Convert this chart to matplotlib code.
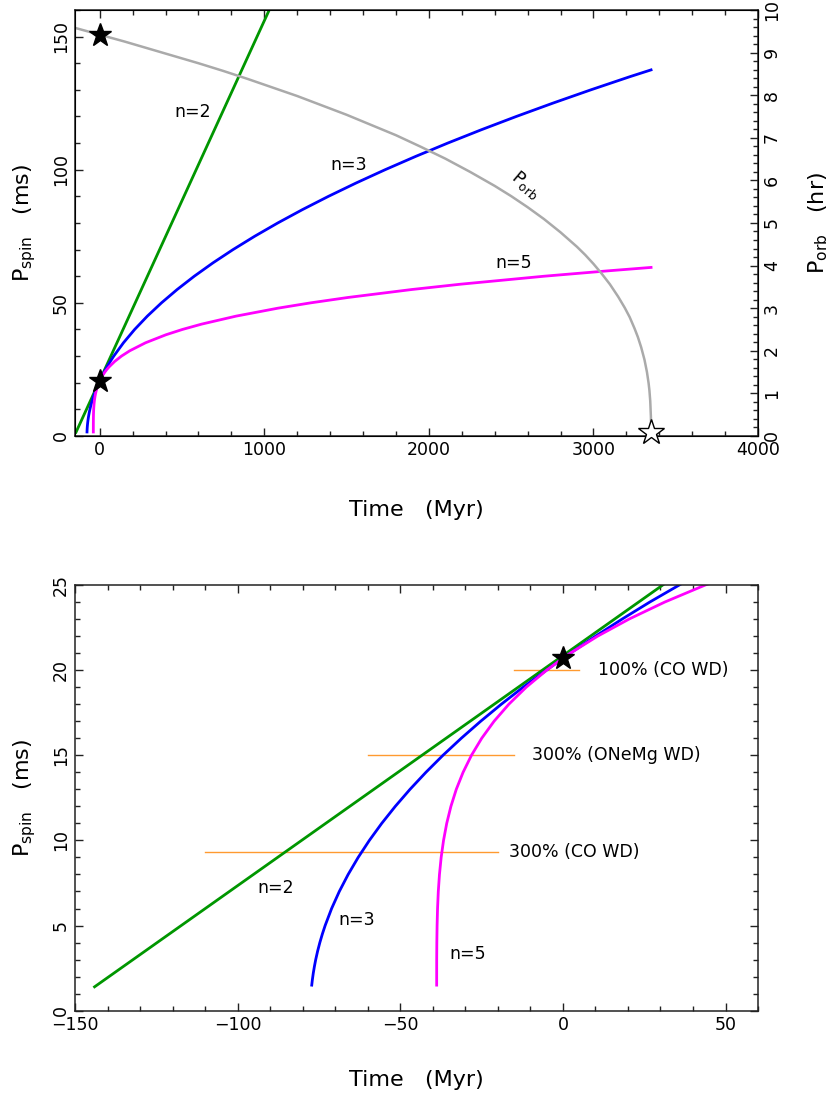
import numpy as np
import matplotlib
matplotlib.use("Agg")
import matplotlib.pyplot as plt
from matplotlib.ticker import MultipleLocator

# braking-index tracks (time in Myr, P_spin in ms)
t_n2 = [-144.0, 1030.0]
p_n2 = [1.4, 160.0]

t_n3 = [-77.22, -77.04, -76.75, -76.40, -76.0, -75.41, -74.73, -73.96,
        -73.10, -71.11, -68.75, -66.03, -62.95, -59.51, -55.71, -51.54,
        -47.01, -42.12, -36.87, -31.25, -25.27, -18.93, -12.23, 0.0, 10.05,
        18.21, 26.72, 44.84, 64.4, 85.42, 144.3, 212.2, 289.2, 375.3, 470.4,
        574.5, 687.8, 810.1, 941.4, 1081.8, 1231.3, 1389.8, 1557.3, 1734.0,
        1919.7, 2114.4, 2318.2, 2531.1, 2753.0, 2983.9, 3224.0, 3350.0]
p_n3 = [1.5, 1.8, 2.2, 2.6, 3.0, 3.5, 4.0, 4.5,
        5.0, 6.0, 7.0, 8.0, 9.0, 10.0, 11.0, 12.0,
        13.0, 14.0, 15.0, 16.0, 17.0, 18.0, 19.0, 20.7, 22.0,
        23.0, 24.0, 26.0, 28.0, 30.0, 35.0, 40.0, 45.0, 50.0, 55.0,
        60.0, 65.0, 70.0, 75.0, 80.0, 85.0, 90.0, 95.0, 100.0,
        105.0, 110.0, 115.0, 120.0, 125.0, 130.0, 135.0, 137.5]

t_n5 = [-38.81, -38.80, -38.76, -38.68, -38.54, -38.31, -37.95, -37.43,
        -36.70, -35.72, -34.43, -32.78, -30.69, -28.11, -24.96, -21.16,
        -16.62, -11.27, -4.99, 0.0, 2.3, 10.71, 20.34, 31.32, 43.76, 57.79,
        91.12, 132.4, 182.8, 278.4, 402.0, 502.3, 619.0, 828.0, 1083.4,
        1282.4, 1506.8, 1895.6, 2192.6, 2700.8, 3084.8, 3350.0]
p_n5 = [1.5, 3.0, 4.0, 5.0, 6.0, 7.0, 8.0, 9.0,
        10.0, 11.0, 12.0, 13.0, 14.0, 15.0, 16.0, 17.0,
        18.0, 19.0, 20.0, 20.7, 21.0, 22.0, 23.0, 24.0, 25.0, 26.0,
        28.0, 30.0, 32.0, 35.0, 38.0, 40.0, 42.0, 45.0, 48.0,
        50.0, 52.0, 55.0, 57.0, 60.0, 62.0, 63.3]

# orbital period (hr)
t_orb = [-150, 0, 150, 300, 450, 600, 750, 900, 1050, 1200, 1350, 1500,
         1650, 1800, 1950, 2100, 2250, 2400, 2500, 2600, 2700, 2800, 2900,
         2950, 3000, 3050, 3100, 3150, 3190, 3220, 3250, 3270, 3290, 3310,
         3325, 3335, 3340, 3345, 3349, 3349.7]
p_orb = [9.58, 9.42, 9.26, 9.09, 8.92, 8.75, 8.57, 8.38, 8.18, 7.98, 7.76,
         7.54, 7.30, 7.06, 6.79, 6.51, 6.20, 5.87, 5.63, 5.37, 5.09, 4.78,
         4.44, 4.25, 4.04, 3.81, 3.56, 3.27, 3.01, 2.79, 2.52, 2.32, 2.08,
         1.79, 1.50, 1.24, 1.07, 0.82, 0.45, 0.29]

# markers
star_now = (0.0, 20.7)
star_orb_now = (0.0, 9.42)
star_merge = (3350.0, 0.10)

# accretion-induced collapse levels (bottom panel)
aic_p = [20.0, 15.0, 9.3]
aic_t0 = [-15.0, -60.0, -110.0]
aic_t1 = [5.0, -15.0, -20.0]
aic_lab = ["100% (CO WD)", "300% (ONeMg WD)", "300% (CO WD)"]
aic_lab_t = [10.7, -9.6, -16.5]

GREEN = "#009600"
BLUE = "#0000ff"
MAGENTA = "#ff00ff"
GRAY = "#aaaaaa"
ORANGE = "#ff9a30"

plt.rcParams["font.family"] = "DejaVu Sans"
plt.rcParams["mathtext.fontset"] = "dejavusans"

fig = plt.figure(figsize=(8.3, 10.97), dpi=100)
ax1 = fig.add_axes([0.0904, 0.6026, 0.8229, 0.3883])
ax2 = fig.add_axes([0.0904, 0.0787, 0.8229, 0.3880])


def style(ax, right=True):
    for s in ax.spines.values():
        s.set_linewidth(1.1)
        s.set_color("#222222")
    ax.tick_params(which="both", direction="in", top=True, right=right,
                   color="#222222", labelsize=12.5)
    ax.tick_params(which="major", length=6, width=1.0)
    ax.tick_params(which="minor", length=3.6, width=1.0)
    for lab in ax.get_yticklabels():
        lab.set_rotation(90)
        lab.set_va("center")


# ---- top panel
ax1.plot(t_n2, p_n2, color=GREEN, lw=2.0)
ax1.plot(t_n3, p_n3, color=BLUE, lw=2.0)
ax1.plot(t_n5, p_n5, color=MAGENTA, lw=2.0)
ax1.plot(*star_now, marker="*", color="black", ms=17, zorder=5)
ax1.set_xlim(-150, 4000)
ax1.set_ylim(0, 160)
ax1.xaxis.set_major_locator(MultipleLocator(1000))
ax1.xaxis.set_minor_locator(MultipleLocator(200))
ax1.yaxis.set_major_locator(MultipleLocator(50))
ax1.yaxis.set_minor_locator(MultipleLocator(10))
style(ax1, right=False)
ax1.set_xlabel("Time   (Myr)", fontsize=16, labelpad=30)
ax1.set_ylabel(r"P$_{\rm spin}$   (ms)", fontsize=16, labelpad=10)

ax1r = ax1.twinx()
ax1r.plot(t_orb, p_orb, color=GRAY, lw=1.8)
ax1r.plot(*star_orb_now, marker="*", color="black", ms=17, zorder=5)
ax1r.plot(*star_merge, marker="*", mfc="white", mec="black", mew=1.0,
          ms=19, zorder=5, clip_on=False)
ax1r.set_ylim(0, 10)
ax1r.yaxis.set_major_locator(MultipleLocator(1))
ax1r.yaxis.set_minor_locator(MultipleLocator(0.2))
ax1r.tick_params(which="both", direction="in", color="#222222", labelsize=12.5)
ax1r.tick_params(which="major", length=6, width=1.0)
ax1r.tick_params(which="minor", length=3.6, width=1.0)
for lab in ax1r.get_yticklabels():
    lab.set_rotation(90)
    lab.set_va("center")
ax1r.set_ylabel(r"P$_{\rm orb}$   (hr)", fontsize=16, labelpad=18)

ax1.text(565, 121.6, "n=2", fontsize=12.5, ha="center", va="center")
ax1.text(1510, 101.8, "n=3", fontsize=12.5, ha="center", va="center")
ax1.text(2515, 64.9, "n=5", fontsize=12.5, ha="center", va="center")
ax1r.text(2590, 5.9, r"P$_{\rm orb}$", fontsize=12.5, ha="center",
          va="center", rotation=-40)

# ---- bottom panel
ax2.plot(t_n2, p_n2, color=GREEN, lw=2.0)
ax2.plot(t_n3, p_n3, color=BLUE, lw=2.0)
ax2.plot(t_n5, p_n5, color=MAGENTA, lw=2.0)
for p, a, b, lab, tl in zip(aic_p, aic_t0, aic_t1, aic_lab, aic_lab_t):
    ax2.plot([a, b], [p, p], color=ORANGE, lw=1.0, zorder=1)
    ax2.text(tl, p, lab, fontsize=12.5, ha="left", va="center")
ax2.plot(*star_now, marker="*", color="black", ms=17, zorder=5)
ax2.set_xlim(-150, 60)
ax2.set_ylim(0, 25)
ax2.xaxis.set_major_locator(MultipleLocator(50))
ax2.xaxis.set_minor_locator(MultipleLocator(10))
ax2.yaxis.set_major_locator(MultipleLocator(5))
ax2.yaxis.set_minor_locator(MultipleLocator(1))
style(ax2)
ax2.set_xlabel("Time   (Myr)", fontsize=16, labelpad=26)
ax2.set_ylabel(r"P$_{\rm spin}$   (ms)", fontsize=16, labelpad=10)

ax2.text(-88.2, 7.2, "n=2", fontsize=12.5, ha="center", va="center")
ax2.text(-63.4, 5.3, "n=3", fontsize=12.5, ha="center", va="center")
ax2.text(-29.3, 3.3, "n=5", fontsize=12.5, ha="center", va="center")

fig.savefig("out.png", dpi=100)
